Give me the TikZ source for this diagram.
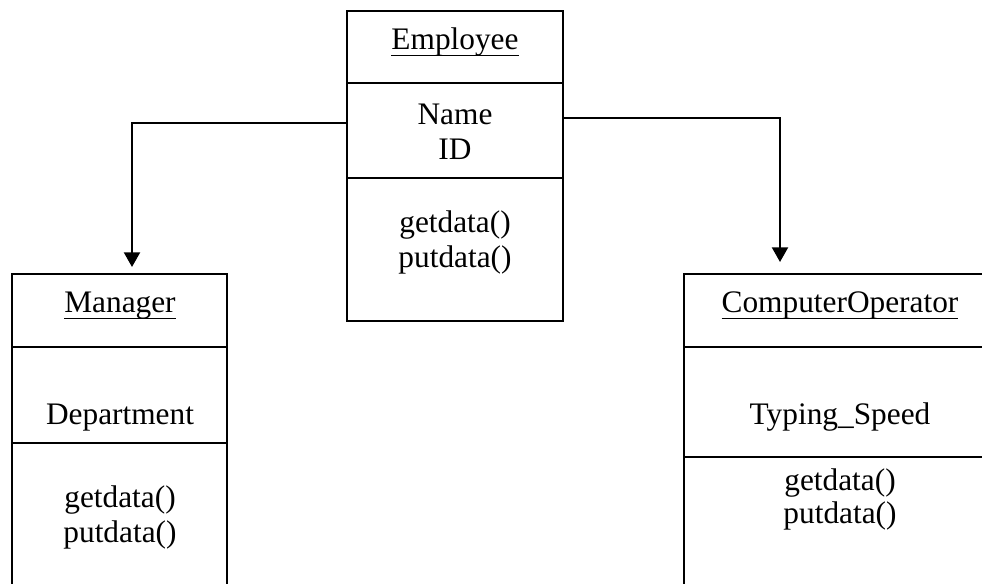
\documentclass[tikz,border=0pt]{standalone}
\usepackage{fontspec}
\setmainfont{Liberation Serif}
\usetikzlibrary{arrows.meta}
\begin{document}
\begin{tikzpicture}[x=0.75pt,y=-0.75pt,
  comp/.style={draw,line width=2.2pt,inner sep=0pt,outer sep=0pt,anchor=north west},
  lbl/.style={inner sep=0pt,outer sep=0pt,anchor=base,font=\fontsize{23.5}{26}\selectfont},
  conn/.style={line width=1.6pt,-{Triangle[width=12pt,length=11pt]}},
  ulline/.style={line width=1.2pt}]
\useasboundingbox (0,0) rectangle (982,584);
\clip (0,0) rectangle (982,584);
% Employee
\node[comp,minimum width=162pt,minimum height=54pt] (empT) at (347,11) {};
\node[comp,minimum width=162pt,minimum height=71.25pt] (empA) at (347,83) {};
\node[comp,minimum width=162pt,minimum height=107.25pt] (empM) at (347,178) {};
\node[lbl] (empN) at (455,50) {Employee};
\draw[ulline] ([yshift=-4pt]empN.base west) -- ([yshift=-4pt]empN.base east);
\node[lbl] (empA1) at (455,125) {Name};
\node[lbl] (empA2) at (455,160) {ID};
\node[lbl] (empM1) at (455,233) {getdata()};
\node[lbl] (empM2) at (455,268) {putdata()};
% Manager
\node[comp,minimum width=161.25pt,minimum height=54.75pt] (mgrT) at (12,274) {};
\node[comp,minimum width=161.25pt,minimum height=72pt] (mgrA) at (12,347) {};
\node[comp,minimum width=161.25pt,minimum height=117.75pt] (mgrM) at (12,443) {};
\node[lbl] (mgrN) at (120,313) {Manager};
\draw[ulline] ([yshift=-4pt]mgrN.base west) -- ([yshift=-4pt]mgrN.base east);
\node[lbl] (mgrA1) at (120,425) {Department};
\node[lbl] (mgrM1) at (120,508) {getdata()};
\node[lbl] (mgrM2) at (120,542) {putdata()};
% ComputerOperator
\node[comp,minimum width=234pt,minimum height=54.75pt] (copT) at (684,274) {};
\node[comp,minimum width=234pt,minimum height=82.5pt] (copA) at (684,347) {};
\node[comp,minimum width=234pt,minimum height=107.25pt] (copM) at (684,457) {};
\node[lbl] (copN) at (840,313) {ComputerOperator};
\draw[ulline] ([yshift=-4pt]copN.base west) -- ([yshift=-4pt]copN.base east);
\node[lbl] (copA1) at (840,425) {Typing\_Speed};
\node[lbl] (copM1) at (840,490) {getdata()};
\node[lbl] (copM2) at (840,523) {putdata()};
% connectors
\coordinate (lsrc) at (347,123);
\coordinate (ltip) at (132,267);
\coordinate (rsrc) at (563,118);
\coordinate (rtip) at (780,262);
\draw[conn] (lsrc) -| (ltip);
\draw[conn] (rsrc) -| (rtip);
\end{tikzpicture}
\end{document}
